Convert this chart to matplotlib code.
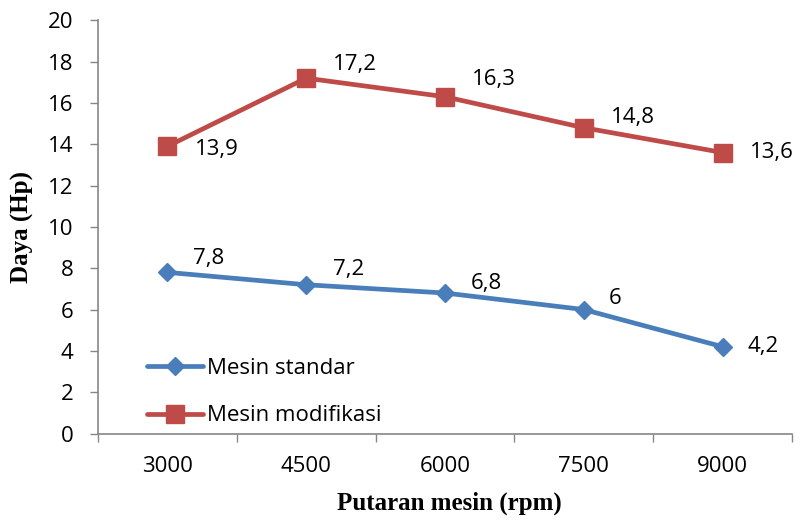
import matplotlib
matplotlib.use("Agg")
import matplotlib.pyplot as plt
from matplotlib.ticker import FixedLocator, NullFormatter, FixedFormatter

categories = ["3000", "4500", "6000", "7500", "9000"]
standar = [7.8, 7.2, 6.8, 6.0, 4.2]
modifikasi = [13.9, 17.2, 16.3, 14.8, 13.6]
standar_labels = ["7,8", "7,2", "6,8", "6", "4,2"]
modifikasi_labels = ["13,9", "17,2", "16,3", "14,8", "13,6"]
yticks = [0, 2, 4, 6, 8, 10, 12, 14, 16, 18, 20]

# label offsets in pixels (style)
std_off = [(26, 14), (27, 15), (26, 10), (25, 11), (25, 0)]
mod_off = [(28, -3), (27, 14), (27, 17), (27, 10), (27, 0)]

BLUE = "#4A7EBB"
RED = "#BE4B48"
GRAY = "#868686"
TICKFONT = "Open Sans"
FS = 16

fig = plt.figure(figsize=(7.96, 5.23), dpi=100)
ax = fig.add_axes([98/796, 1-433.5/523, (792-98)/796, (433.5-20.3)/523])

x = list(range(len(categories)))
ax.plot(x, standar, color=BLUE, lw=3.4, marker="D", ms=9.5, mfc=BLUE, mec=BLUE,
        label="Mesin standar", solid_capstyle="round", zorder=3)
ax.plot(x, modifikasi, color=RED, lw=3.4, marker="s", ms=13, mfc=RED, mec=RED,
        label="Mesin modifikasi", solid_capstyle="round", zorder=3)

for xi, v, t, o in zip(x, standar, standar_labels, std_off):
    ax.annotate(t, (xi, v), xytext=o, textcoords="offset pixels", ha="left",
                va="center", fontsize=FS, family=TICKFONT, color="black")
for xi, v, t, o in zip(x, modifikasi, modifikasi_labels, mod_off):
    ax.annotate(t, (xi, v), xytext=o, textcoords="offset pixels", ha="left",
                va="center", fontsize=FS, family=TICKFONT, color="black")

ax.set_xlim(-0.5, len(categories) - 0.5)
ax.set_ylim(0, 20)
ax.set_yticks(yticks)
ax.set_yticklabels([str(v) for v in yticks], family=TICKFONT, fontsize=FS)

ax.xaxis.set_major_locator(FixedLocator([i - 0.5 for i in range(len(categories) + 1)]))
ax.xaxis.set_major_formatter(NullFormatter())
ax.xaxis.set_minor_locator(FixedLocator(x))
ax.xaxis.set_minor_formatter(FixedFormatter(categories))
for lab in ax.xaxis.get_minorticklabels():
    lab.set_family(TICKFONT)
    lab.set_fontsize(FS)

ax.tick_params(axis="x", which="major", direction="out", length=5.8, width=1, color=GRAY)
ax.tick_params(axis="x", which="minor", length=0, pad=16)
ax.tick_params(axis="y", direction="out", length=5.8, width=1, color=GRAY, pad=12)

for s in ["top", "right"]:
    ax.spines[s].set_visible(False)
for s in ["left", "bottom"]:
    ax.spines[s].set_color(GRAY)
    ax.spines[s].set_linewidth(1.2)

ax.set_ylabel("Daya (Hp)", family="Liberation Serif", fontweight="bold", fontsize=18)
ax.yaxis.set_label_coords((22 - 98) / 694, 0.5)
ax.yaxis.label.set_va("center")
ax.set_xlabel("Putaran mesin (rpm)", family="Liberation Serif", fontweight="bold", fontsize=18)
ax.xaxis.set_label_coords((449 - 98) / 694, (433.5 - 503) / 413.2)
ax.xaxis.label.set_va("center")

leg = ax.legend(loc="center left", bbox_to_anchor=((147 - 98) / 694, (433.5 - 392) / 413.2),
                frameon=False, borderpad=0, borderaxespad=0, handlelength=2.5,
                handletextpad=0.2, labelspacing=1.2,
                prop={"family": TICKFONT, "size": FS})

fig.savefig("out.png", dpi=100)
